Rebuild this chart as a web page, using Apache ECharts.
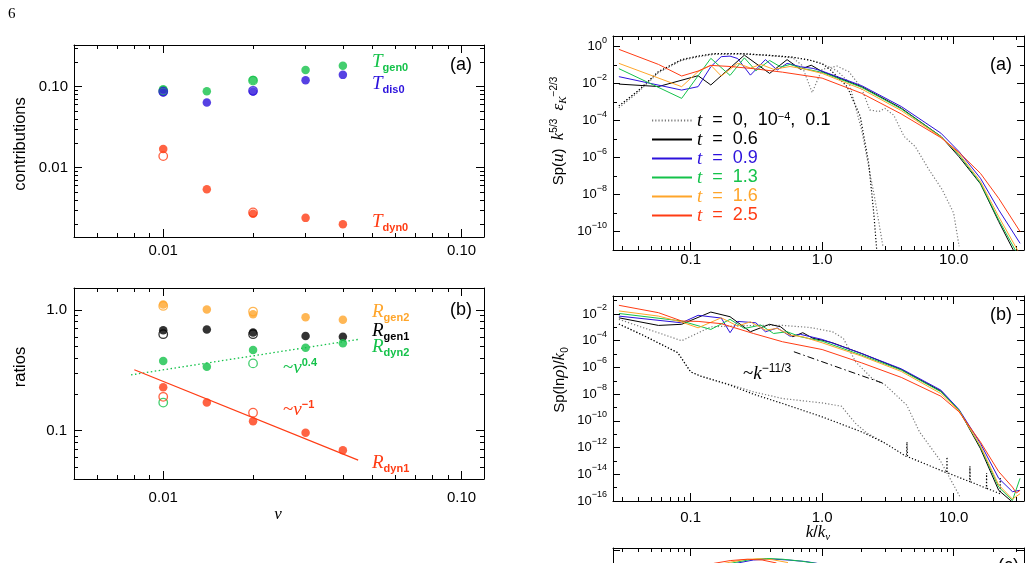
<!DOCTYPE html>
<html>
<head>
<meta charset="utf-8">
<script src="https://cdn.jsdelivr.net/npm/echarts@6/dist/echarts.min.js"></script>
<style>
  html, body { margin: 0; padding: 0; background: #fff; }
  #chart { width: 1032px; height: 563px; }
</style>
</head>
<body>
<div id="chart"></div>
<script>
// ---- left column: runs at different viscosities ----
const nu = [0.01, 0.014, 0.02, 0.03, 0.04];
const nuOpen = [0.01, 0.02];              // open symbols: second resolution

// (a) contributions
const Tgen0 = [0.093, 0.088, 0.121, 0.161, 0.182];
const Tdis0 = [0.085, 0.064, 0.087, 0.12, 0.14];
const Tdyn0 = [0.017, 0.0054, 0.0027, 0.0024, 0.002];
const Tgen0Open = [0.089, 0.119];
const Tdis0Open = [0.087, 0.089];
const Tdyn0Open = [0.0139, 0.0028];

// (b) ratios
const Rgen2 = [1.11, 1.01, 0.92, 0.87, 0.83];
const Rgen1 = [0.68, 0.69, 0.65, 0.61, 0.60];
const Rdyn2 = [0.378, 0.339, 0.466, 0.487, 0.53];
const Rdyn1 = [0.229, 0.171, 0.12, 0.096, 0.069];
const Rgen2Open = [1.08, 0.97];
const Rgen1Open = [0.63, 0.63];
const Rdyn2Open = [0.171, 0.361];
const Rdyn1Open = [0.191, 0.141];
// power law guides
const fitNu2 = [0.0078, 0.045];
const fitDyn2 = [0.29, 0.57];
const fitNu1 = [0.008, 0.045];
const fitDyn1 = [0.32, 0.057];

// ---- right column: spectra vs k/k_nu ----
// (a) Sp(u) k^5/3 eps^-2/3
const kU_t0 = [0.0285, 0.04, 0.057, 0.0855, 0.114, 0.15, 0.25, 0.4, 0.6, 0.8, 1.0, 1.16, 1.55, 1.95, 2.26, 2.47, 2.6];
const spU_t0 = [6.3e-4, 4.2e-3, 0.045, 0.2, 0.31, 0.42, 0.42, 0.34, 0.27, 0.19, 0.12, 0.055, 0.0069, 1.7e-4, 5e-7, 1e-9, 1e-11];
const kU_t1 = [0.0285, 0.04, 0.057, 0.0855, 0.114, 0.15, 0.25, 0.4, 0.6, 0.8, 1.0, 1.3, 1.6, 2.0, 2.5, 2.9];
const spU_t1 = [6.3e-4, 4.2e-3, 0.045, 0.2, 0.31, 0.42, 0.42, 0.34, 0.27, 0.19, 0.12, 0.05, 0.012, 3e-5, 7.7e-9, 1.6e-11];
const kU_t2 = [0.0285, 0.04, 0.057, 0.0855, 0.114, 0.15, 0.25, 0.4, 0.6, 0.7, 0.84, 1.0, 1.3, 1.6, 2.0, 2.3, 2.7, 3.0, 3.5, 4.2, 5.1, 6.5, 8.2, 10, 11];
const spU_t2 = [5e-4, 3.5e-3, 0.04, 0.18, 0.28, 0.38, 0.4, 0.33, 0.25, 0.1, 0.0033, 0.06, 0.09, 0.044, 0.0056, 3.8e-4, 3.1e-4, 4.6e-4, 2.0e-4, 1.4e-5, 4e-6, 2.2e-7, 1.8e-8, 1e-9, 1.6e-11];
const kU_06 = [0.0285, 0.057, 0.114, 0.1425, 0.2565, 0.399, 0.5415, 0.684, 0.8265, 1.0, 2, 4, 8, 11, 16, 22, 32];
const spU_06 = [0.0095, 0.007, 0.027, 0.0085, 0.35, 0.036, 0.2, 0.06, 0.1, 0.045, 0.0069, 4.7e-4, 1.4e-5, 1.1e-6, 3.8e-8, 3.5e-10, 1.9e-12];
const kU_09 = [0.0285, 0.0855, 0.114, 0.1425, 0.171, 0.1995, 0.228, 0.285, 0.3705, 0.456, 0.5415, 0.684, 0.855, 1.0, 2, 4, 8, 11, 16, 22, 32];
const spU_09 = [0.024, 0.0045, 0.0069, 0.083, 0.29, 0.31, 0.23, 0.029, 0.2, 0.055, 0.126, 0.083, 0.067, 0.048, 0.0078, 5.8e-4, 2.1e-5, 2.1e-6, 7.6e-8, 1.5e-9, 2.3e-11];
const kU_13 = [0.0285, 0.0855, 0.1425, 0.1995, 0.2565, 0.3135, 0.399, 0.4845, 0.57, 0.71, 1.0, 2, 4, 8, 11, 16, 22, 32];
const spU_13 = [0.065, 0.0016, 0.235, 0.028, 0.25, 0.05, 0.18, 0.08, 0.11, 0.067, 0.041, 0.0063, 4.3e-4, 1.4e-5, 1.4e-6, 4.1e-8, 4.3e-10, 3.3e-12];
const kU_16 = [0.0285, 0.0855, 0.114, 0.1425, 0.171, 0.228, 0.285, 0.342, 0.4275, 0.57, 0.71, 1.0, 2, 4, 8, 11, 16, 22, 32];
const spU_16 = [0.126, 0.0069, 0.045, 0.1, 0.026, 0.126, 0.07, 0.11, 0.06, 0.085, 0.065, 0.036, 0.0051, 3.5e-4, 1.3e-5, 1.6e-6, 5.1e-8, 6.4e-10, 5.6e-12];
const kU_25 = [0.0285, 0.057, 0.0855, 0.114, 0.1425, 0.2, 0.3, 0.5, 1.0, 2, 4, 8, 11, 16, 22, 32];
const spU_25 = [0.72, 0.11, 0.026, 0.048, 0.098, 0.085, 0.065, 0.042, 0.02, 0.003, 2.3e-4, 1.2e-5, 1.9e-6, 1.4e-7, 6.3e-9, 1e-10];

// (b) Sp(ln rho)/k0
const kR_t0 = [0.0285, 0.045, 0.08, 0.1, 0.12, 0.2, 0.3, 0.5, 1, 2, 3, 4.38, 4.42, 4.46, 8.85, 8.9, 8.95, 13.25, 13.3, 13.35, 17.75, 17.8, 17.85, 22.55, 22.6, 22.65];
const spR_t0 = [1.8e-3, 2.2e-4, 1.26e-5, 4.7e-7, 2.2e-7, 4.7e-8, 1e-8, 2e-9, 2e-10, 1.5e-11, 2.2e-12, 2.1e-13, 2.6e-12, 2.1e-13, 1.3e-14, 2e-13, 1.3e-14, 2.8e-15, 4e-14, 2.8e-15, 8.9e-16, 1.26e-14, 8.9e-16, 3.5e-16, 6.3e-15, 3.5e-16];
const kR_t1 = [0.0285, 0.045, 0.08, 0.1, 0.12, 0.2, 0.3, 0.5, 1, 1.4, 1.8, 2.2, 3];
const spR_t1 = [1.8e-3, 2.2e-4, 1.26e-5, 4.7e-7, 2.2e-7, 5.2e-8, 1.5e-8, 4.7e-9, 2.2e-9, 1.26e-9, 6.3e-11, 1.2e-11, 2.2e-12];
const kR_t2 = [0.0285, 0.0855, 0.1425, 0.2, 0.3, 0.5, 0.8, 1.2, 1.45, 1.8, 2.4, 3, 4.4, 5.5, 7.9, 11.2];
const spR_t2 = [4e-3, 1e-4, 1.1e-3, 1.26e-3, 1.4e-3, 1.4e-3, 1e-3, 4.7e-4, 1.5e-4, 2.6e-6, 1.5e-7, 5.2e-8, 1.5e-9, 1.5e-11, 1.1e-13, 2e-16];
const kR_06 = [0.0285, 0.057, 0.0855, 0.1425, 0.1995, 0.285, 0.399, 0.4845, 0.5985, 0.7125, 0.855, 1.0, 1.2, 2, 4, 8, 11, 16, 22, 28, 32];
const spR_06 = [5.2e-3, 1.4e-3, 1.7e-3, 0.014, 6.3e-3, 4.7e-4, 1.7e-3, 1.1e-3, 2e-4, 4e-4, 1.5e-4, 1.1e-4, 7e-5, 1.1e-5, 7e-7, 1.7e-8, 6.3e-10, 8.3e-13, 6.3e-16, 8.3e-17, 5e-17];
const kR_09 = [0.0285, 0.0855, 0.114, 0.171, 0.1995, 0.228, 0.3135, 0.3705, 0.456, 0.57, 0.684, 1.0, 2, 4, 8, 11, 16, 22, 28, 32];
const spR_09 = [7e-3, 2.2e-3, 8e-3, 5e-3, 4e-4, 2.8e-3, 2.2e-3, 4.7e-4, 9e-4, 2.2e-4, 3e-4, 1.26e-4, 1.1e-5, 7.9e-7, 2e-8, 7e-10, 2e-12, 5e-15, 5e-16, 6.3e-16];
const kR_13 = [0.0285, 0.0855, 0.1425, 0.1995, 0.2565, 0.342, 0.4275, 0.5415, 0.684, 1.0, 2, 4, 8, 11, 16, 22, 28, 32];
const spR_13 = [0.011, 3e-3, 7e-4, 4e-3, 8.3e-4, 1.5e-3, 3.5e-4, 4.7e-4, 2e-4, 9.3e-5, 8.3e-6, 6.3e-7, 1.5e-8, 6.3e-10, 1.1e-12, 1.1e-15, 1.1e-16, 5e-15];
const kR_16 = [0.0285, 0.057, 0.0855, 0.114, 0.171, 0.228, 0.285, 0.3705, 0.456, 0.57, 0.71, 1.0, 2, 4, 8, 11, 16, 22, 28, 32];
const spR_16 = [0.017, 7e-3, 2.5e-3, 9.3e-4, 5.2e-3, 1.26e-3, 2.6e-3, 6.3e-4, 8.3e-4, 2.6e-4, 2e-4, 7e-5, 7e-6, 5e-7, 1.1e-8, 5.6e-10, 1.3e-12, 1.6e-15, 1.4e-16, 3.5e-16];
const kR_25 = [0.0285, 0.057, 0.0855, 0.114, 0.171, 0.3, 0.5, 1.0, 2, 4, 8, 11, 16, 22, 28, 30, 32];
const spR_25 = [0.045, 0.0126, 0.003, 0.0028, 0.0019, 3.5e-4, 8.4e-5, 2.2e-5, 2.2e-6, 1.8e-7, 7e-9, 4.7e-10, 2.6e-12, 1.6e-14, 1.1e-15, 4e-16, 6.3e-16];
const kSlope = [0.61, 2.94];
const spSlope = [1.5e-5, 6.3e-8];

// (c) only its top edge is on the page
const kC_09 = [0.22, 0.3, 0.4, 0.55, 0.75, 0.92];
const spC_09 = [0.2, 0.3, 0.34, 0.3, 0.25, 0.2];
const kC_13 = [0.2, 0.28, 0.38, 0.5, 0.7, 0.9];
const spC_13 = [0.2, 0.31, 0.36, 0.33, 0.26, 0.2];
const kC_16 = [0.18, 0.25, 0.33, 0.42, 0.55];
const spC_16 = [0.2, 0.31, 0.35, 0.31, 0.22];
const kC_25 = [0.15, 0.2, 0.27, 0.35, 0.45];
const spC_25 = [0.2, 0.28, 0.33, 0.3, 0.21];

const RED = '#ff3c14', ORANGE = '#ffa52a', GREEN = '#14c24a', BLUE = '#2c12dc', GRAY = '#7a7a7a';
const SANS = "'Liberation Sans', Arial, Helvetica, sans-serif";
const SERIF = "'Liberation Serif', 'Times New Roman', serif";

const L = Math.log10;
const pts = (xs, ys) => xs.map((x, i) => [L(x), L(ys[i])]);

// tick positions on a log10 axis
function logTicks(lo, hi, minorMant) {
  const major = [], minor = [];
  for (let e = Math.floor(lo) - 1; e <= Math.ceil(hi) + 1; e++) {
    if (e >= lo - 1e-9 && e <= hi + 1e-9) major.push(e);
    minorMant.forEach(m => {
      const v = e + L(m);
      if (v > lo && v < hi) minor.push(v);
    });
  }
  return { major, minor };
}

// 4 axes per side pair: labelled+major, minor, mirrored major, mirrored minor
function axisSet(dim, g, range, major, minor, label, majorLen, minorLen) {
  const sides = dim === 'x' ? ['bottom', 'top'] : ['left', 'right'];
  const out = [];
  sides.forEach((side, i) => {
    out.push({
      type: 'value', gridIndex: g, position: side, min: range[0], max: range[1],
      axisLine: { show: true, onZero: false, lineStyle: { color: '#000', width: 1 } },
      axisTick: { show: true, inside: true, length: majorLen, customValues: major, lineStyle: { color: '#000', width: 1 } },
      axisLabel: (i === 0 && label) ? Object.assign({
        show: true, color: '#000', fontSize: 15, fontFamily: SANS
      }, label) : { show: false },
      splitLine: { show: false }
    });
    out.push({
      type: 'value', gridIndex: g, position: side, min: range[0], max: range[1],
      axisLine: { show: false, onZero: false },
      axisTick: { show: minor.length > 0, inside: true, length: minorLen, customValues: minor, lineStyle: { color: '#000', width: 1 } },
      axisLabel: { show: false },
      splitLine: { show: false }
    });
  });
  return out;
}

const xL = [-2.299, -0.925];
const xR = [-1.59, 1.535];
const mant = [2, 3, 4, 5, 6, 7, 8, 9];
const tL = logTicks(xL[0], xL[1], mant);
const tR = logTicks(xR[0], xR[1], mant);

const pow10Rich = {
  b: { fontSize: 13, lineHeight: 22, fontFamily: SANS, color: '#000' },
  s: { fontSize: 9, lineHeight: 10, verticalAlign: 'top', fontFamily: SANS, color: '#000' }
};
const pow10 = v => '{b|10}{s|' + (v === 0 ? '0' : String(v).replace('-', '\u2212')) + '}';

function evenOdd(lo, hi) {
  const even = [], odd = [];
  for (let e = Math.ceil(lo); e <= Math.floor(hi); e++) (e % 2 === 0 ? even : odd).push(e);
  return { even, odd };
}
const yRa = [-11.0, 0.58], yRb = [-16, -0.65], yRc = [-11, 0.1];
const eoA = evenOdd(yRa[0], yRa[1]), eoB = evenOdd(yRb[0], yRb[1]), eoC = evenOdd(yRc[0], yRc[1]);
const yLa = [-2.856, -0.485], yLb = [-1.40, 0.182];
const tLa = logTicks(yLa[0], yLa[1], mant), tLb = logTicks(yLb[0], yLb[1], mant);

const xAxes = [].concat(
  axisSet('x', 0, xL, tL.major, tL.minor, { customValues: [-2, -1], margin: 6, formatter: v => ({ '-2': '0.01', '-1': '0.10' })[v] }, 8, 4),
  axisSet('x', 1, xL, tL.major, tL.minor, { customValues: [-2, -1], margin: 11, formatter: v => ({ '-2': '0.01', '-1': '0.10' })[v] }, 8, 4),
  axisSet('x', 2, xR, tR.major, tR.minor, { customValues: [-1, 0, 1], margin: 2, formatter: v => ({ '-1': '0.1', '0': '1.0', '1': '10.0' })[v] }, 8, 4),
  axisSet('x', 3, xR, tR.major, tR.minor, { customValues: [-1, 0, 1], margin: 9, formatter: v => ({ '-1': '0.1', '0': '1.0', '1': '10.0' })[v] }, 8, 4),
  axisSet('x', 4, xR, tR.major, tR.minor, null, 8, 4)
);
const yAxes = [].concat(
  axisSet('y', 0, yLa, tLa.major, tLa.minor, { customValues: [-2, -1], margin: 6, formatter: v => ({ '-2': '0.01', '-1': '0.10' })[v] }, 8, 4),
  axisSet('y', 1, yLb, tLb.major, tLb.minor, { customValues: [-1, 0], margin: 7, formatter: v => ({ '-1': '0.1', '0': '1.0' })[v] }, 8, 4),
  axisSet('y', 2, yRa, eoA.even, eoA.odd, { customValues: eoA.even, margin: 6, formatter: pow10, rich: pow10Rich }, 7, 4),
  axisSet('y', 3, yRb, eoB.even, eoB.odd, { customValues: eoB.even, margin: 6, formatter: pow10, rich: pow10Rich }, 7, 4),
  axisSet('y', 4, yRc, eoC.even, eoC.odd, null, 7, 4)
);

function dots(g, xs, ys, color, open) {
  return {
    type: 'scatter', xAxisIndex: g * 4, yAxisIndex: g * 4, data: pts(xs, ys),
    symbol: 'circle', symbolSize: 8.5, silent: true, z: open ? 4 : 3,
    itemStyle: open ? { color: 'rgba(0,0,0,0)', borderColor: color, borderWidth: 1.3 } : { color: color }
  };
}
function curve(name, g, xs, ys, color, type, width) {
  return {
    type: 'line', name: name, xAxisIndex: g * 4, yAxisIndex: g * 4, data: pts(xs, ys),
    symbol: 'none', showSymbol: false, clip: true, silent: true,
    lineStyle: { color: color, width: width || 1, type: type || 'solid' },
    itemStyle: { color: color }
  };
}
const DOT = [1.2, 2];

const series = [
  // left (a)
  dots(0, nuOpen, Tgen0Open, GREEN, true), dots(0, nuOpen, Tdis0Open, BLUE, true), dots(0, nuOpen, Tdyn0Open, RED, true),
  dots(0, nu, Tgen0, GREEN), dots(0, nu, Tdis0, BLUE), dots(0, nu, Tdyn0, RED),
  // left (b)
  curve('fit2', 1, fitNu2, fitDyn2, GREEN, [1.5, 2.5], 1.3),
  curve('fit1', 1, fitNu1, fitDyn1, RED, 'solid', 1.2),
  dots(1, nuOpen, Rgen2Open, ORANGE, true), dots(1, nuOpen, Rgen1Open, '#000', true),
  dots(1, nuOpen, Rdyn2Open, GREEN, true), dots(1, nuOpen, Rdyn1Open, RED, true),
  dots(1, nu, Rgen2, ORANGE), dots(1, nu, Rgen1, '#000'), dots(1, nu, Rdyn2, GREEN), dots(1, nu, Rdyn1, RED),
  // right (a)
  curve('tdot', 2, kU_t2, spU_t2, GRAY, DOT, 1.2),
  curve('tdot', 2, kU_t1, spU_t1, GRAY, DOT, 1.2),
  curve('tdot', 2, kU_t0, spU_t0, '#000', DOT, 1.2),
  curve('t06', 2, kU_06, spU_06, '#000'),
  curve('t09', 2, kU_09, spU_09, BLUE),
  curve('t13', 2, kU_13, spU_13, GREEN),
  curve('t16', 2, kU_16, spU_16, ORANGE),
  curve('t25', 2, kU_25, spU_25, RED),
  // right (b)
  curve('r-t2', 3, kR_t2, spR_t2, GRAY, DOT, 1.2),
  curve('r-t1', 3, kR_t1, spR_t1, GRAY, DOT, 1.2),
  curve('r-t0', 3, kR_t0, spR_t0, '#000', DOT, 1.2),
  curve('r-slope', 3, kSlope, spSlope, '#000', [7, 3, 1.5, 3], 1),
  curve('r06', 3, kR_06, spR_06, '#000'),
  curve('r09', 3, kR_09, spR_09, BLUE),
  curve('r13', 3, kR_13, spR_13, GREEN),
  curve('r16', 3, kR_16, spR_16, ORANGE),
  curve('r25', 3, kR_25, spR_25, RED),
  // right (c), mostly below the page
  curve('c09', 4, kC_09, spC_09, BLUE),
  curve('c13', 4, kC_13, spC_13, GREEN),
  curve('c16', 4, kC_16, spC_16, ORANGE),
  curve('c25', 4, kC_25, spC_25, RED)
];

const legendNames = ['tdot', 't06', 't09', 't13', 't16', 't25'];
const legendColors = ['#000', '#000', BLUE, GREEN, ORANGE, RED];
const legendText = {
  tdot: '{i|t}  =  0,  10{s|\u22124},  0.1',
  t06: '{i|t}  =  0.6',
  t09: '{i|t}  =  0.9',
  t13: '{i|t}  =  1.3',
  t16: '{i|t}  =  1.6',
  t25: '{i|t}  =  2.5'
};

// text annotations
const richBig = {
  it: { fontFamily: SERIF, fontStyle: 'italic', fontSize: 19, lineHeight: 22 },
  tl: { fontFamily: SERIF, fontSize: 19, lineHeight: 22 },
  sb: { fontFamily: SANS, fontWeight: 'bold', fontSize: 11, lineHeight: 11, verticalAlign: 'bottom' },
  sp: { fontFamily: SANS, fontWeight: 'bold', fontSize: 11, lineHeight: 11, verticalAlign: 'top' },
  spn: { fontFamily: SANS, fontSize: 12, lineHeight: 11, verticalAlign: 'top' }
};
const richAx = {
  it: { fontFamily: SERIF, fontStyle: 'italic', fontSize: 17, lineHeight: 20 },
  tl: { fontFamily: SERIF, fontSize: 18, lineHeight: 20 },
  sb: { fontFamily: SANS, fontSize: 10, lineHeight: 10, verticalAlign: 'bottom' },
  sp: { fontFamily: SANS, fontSize: 10, lineHeight: 10, verticalAlign: 'top' },
  isb: { fontFamily: SERIF, fontStyle: 'italic', fontSize: 11, lineHeight: 10, verticalAlign: 'bottom' }
};
function note(x, y, text, color, size, rich, align, rotated) {
  const el = {
    type: 'text', x: x, y: y, silent: true, z: 20,
    style: {
      text: text, fill: color, fontFamily: SANS, fontSize: size,
      align: align || 'left', verticalAlign: 'middle', rich: rich
    }
  };
  if (rotated) el.rotation = Math.PI / 2;
  return el;
}

const graphics = [
  { type: 'text', x: 8, y: 14, silent: true, style: { text: '6', fill: '#000', fontFamily: SERIF, fontSize: 15, verticalAlign: 'middle' } },
  // left (a)
  note(372, 62, '{it|T}{sb|gen0}', GREEN, 16, richBig),
  note(372, 84, '{it|T}{sb|dis0}', BLUE, 16, richBig),
  note(372, 222, '{it|T}{sb|dyn0}', RED, 16, richBig),
  note(450, 65, '(a)', '#000', 18, richBig),
  note(20, 144, 'contributions', '#000', 16.5, richAx, 'center', true),
  // left (b)
  note(372, 312, '{it|R}{sb|gen2}', ORANGE, 16, richBig),
  note(372, 331, '{it|R}{sb|gen1}', '#000', 16, richBig),
  note(372, 347, '{it|R}{sb|dyn2}', GREEN, 16, richBig),
  note(372, 463, '{it|R}{sb|dyn1}', RED, 16, richBig),
  note(283, 368, '{tl|~}{it|\u03bd}{sp|0.4}', GREEN, 16, richBig),
  note(283, 410, '{tl|~}{it|\u03bd}{sp|\u22121}', RED, 16, richBig),
  note(450, 310, '(b)', '#000', 18, richBig),
  note(20, 367, 'ratios', '#000', 16.5, richAx, 'center', true),
  note(278, 515, '{it|\u03bd}', '#000', 16, richAx, 'center'),
  // right (a)
  note(990, 65, '(a)', '#000', 18, richBig),
  note(559, 131, 'Sp({it|u})  {it|k}{sp|5/3}  {it|\u03b5}{isb|K}{sp|\u22122/3}', '#000', 15, richAx, 'center', true),
  // right (b)
  note(990, 315, '(b)', '#000', 18, richBig),
  note(743, 374, '{tl|~}{it|k}{spn|\u221211/3}', '#000', 16, richBig),
  note(560, 380, 'Sp(ln{it|\u03c1})/{it|k}{sb|0}', '#000', 15, richAx, 'center', true),
  note(818, 533, '{it|k}/{it|k}{isb|\u03bd}', '#000', 16, richAx, 'center'),
  // right (c), cut off by the page edge
  note(998, 566, '(c)', '#000', 18, richBig)
];

const chart = echarts.init(document.getElementById('chart'), null, { renderer: 'canvas' });
chart.setOption({
  animation: false,
  backgroundColor: '#fff',
  textStyle: { fontFamily: SANS },
  grid: [
    { left: 74, top: 45, width: 410, height: 192, outerBoundsMode: 'none' },
    { left: 74, top: 288, width: 410, height: 191, outerBoundsMode: 'none' },
    { left: 613, top: 36, width: 411, height: 214, outerBoundsMode: 'none' },
    { left: 613, top: 296, width: 411, height: 205, outerBoundsMode: 'none' },
    { left: 613, top: 548, width: 411, height: 214, outerBoundsMode: 'none' }
  ],
  xAxis: xAxes,
  yAxis: yAxes,
  legend: {
    left: 646, top: 106, orient: 'vertical',
    itemWidth: 40, itemHeight: 19, itemGap: 0, itemTextGap: 6,
    selectedMode: false,
    itemStyle: { opacity: 0 },
    data: legendNames.map((n, i) => ({ name: n, textStyle: { color: legendColors[i] } })),
    formatter: n => legendText[n],
    textStyle: {
      fontSize: 18, fontFamily: SANS, lineHeight: 19,
      rich: {
        i: { fontFamily: SERIF, fontStyle: 'italic', fontSize: 19, lineHeight: 19 },
        s: { fontSize: 11, lineHeight: 10, verticalAlign: 'top' }
      }
    }
  },
  graphic: graphics,
  series: series
});
</script>
</body>
</html>
